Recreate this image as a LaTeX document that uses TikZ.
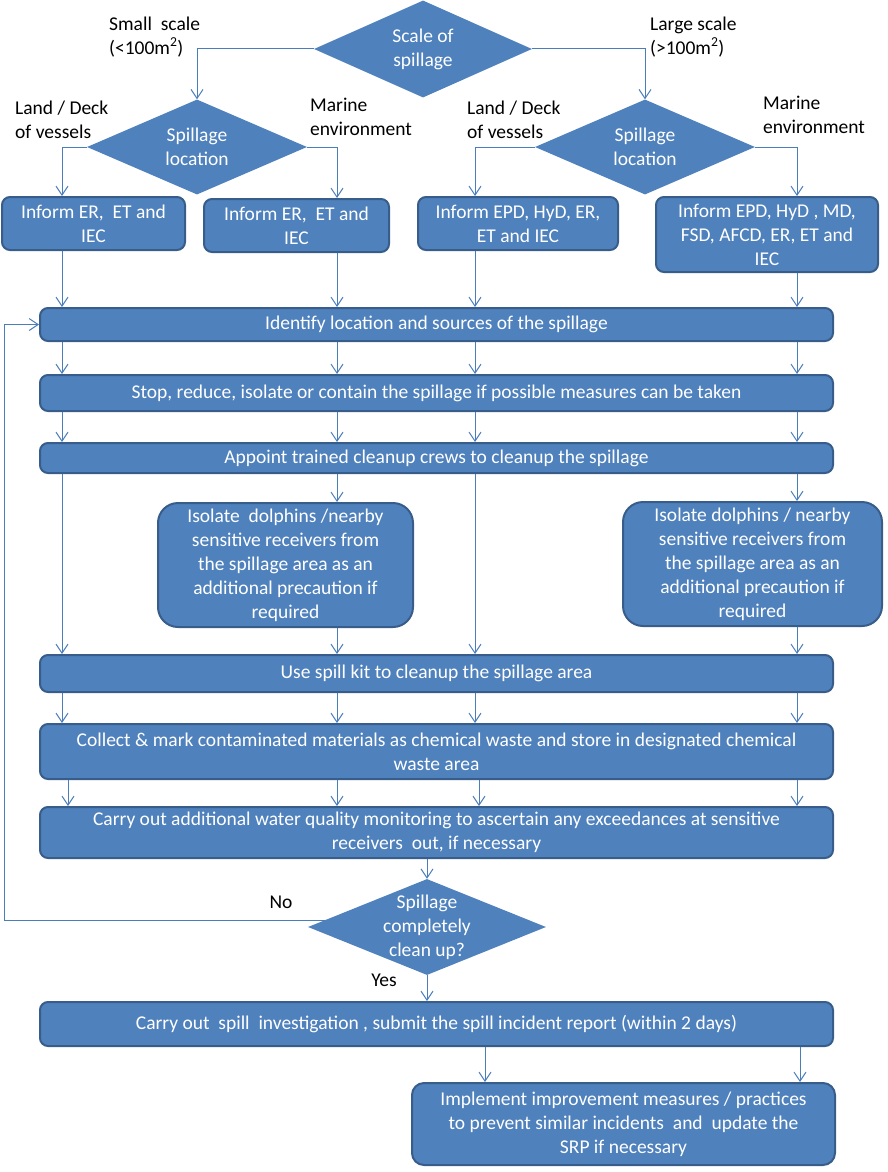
\documentclass[tikz,border=0pt]{standalone}
\usepackage{fontspec}
\setmainfont{Carlito}
\usetikzlibrary{shapes.geometric,arrows.meta}
\definecolor{boxblue}{HTML}{4F81BD}
\definecolor{edgeblue}{HTML}{385D8A}
\definecolor{lineblue}{HTML}{4A7EBB}
\tikzset{
    stepbox/.style={rectangle, rounded corners=8pt, draw=edgeblue, line width=2pt, fill=boxblue, text=white, align=center, inner sep=2pt},
    bigbox/.style={stepbox, rounded corners=20pt},
    decision/.style={diamond, fill=boxblue, text=white, align=center, inner sep=-6pt, aspect=2.3},
    branchtext/.style={align=left, text=black, inner sep=0pt, anchor=west},
    flow/.style={draw=lineblue, line width=1pt, -{Straight Barb[length=9pt,width=12pt]}}
}
\begin{document}
\begin{tikzpicture}[x=1pt, y=-1pt, font=\fontsize{19.5}{24}\selectfont]
    \useasboundingbox (0,0) rectangle (887,1172);
    \coordinate (c1) at (62,0);
    \coordinate (c2) at (337,0);
    \coordinate (c3) at (475,0);
    \coordinate (c4) at (797,0);
    \coordinate (d1) at (68,0);
    \coordinate (d3) at (479,0);
    \coordinate (e1) at (485,0);
    \coordinate (e2) at (800,0);
    \coordinate (loop) at (4,0);
    \node[decision, minimum width=218, minimum height=97] (scale) at (423,49) {Scale of\\spillage};
    \node[decision, minimum width=220, minimum height=95] (locS) at (197,147) {Spillage\\location};
    \node[decision, minimum width=220, minimum height=95] (locL) at (645,147) {Spillage\\location};
    \node[branchtext] (small) at (109,37) {Small~ scale\\(<100m\textsuperscript{2})};
    \node[branchtext] (large) at (650,37) {Large scale\\(>100m\textsuperscript{2})};
    \node[branchtext] (landS) at (15,119.5) {Land / Deck\\of vessels};
    \node[branchtext] (marS) at (310,117) {Marine\\environment};
    \node[branchtext] (landL) at (467,119.5) {Land / Deck\\of vessels};
    \node[branchtext] (marL) at (763,115) {Marine\\environment};
    \node[stepbox, minimum width=183, minimum height=53] (inf1) at (93.5,223.5) {Inform ER,~ ET and\\IEC};
    \node[stepbox, minimum width=185, minimum height=53] (inf2) at (296.5,225.5) {Inform ER,~ ET and\\IEC};
    \node[stepbox, minimum width=200, minimum height=53] (inf3) at (518,223.5) {Inform EPD, HyD, ER,\\ET and IEC};
    \node[stepbox, minimum width=222, minimum height=75] (inf4) at (767,234.5) {Inform EPD, HyD , MD,\\FSD, AFCD, ER, ET and\\IEC};
    \node[stepbox, minimum width=793, minimum height=33] (ident) at (436.5,324.5) {Identify location and sources of the spillage};
    \node[stepbox, minimum width=793, minimum height=36] (stop) at (436.5,393) {Stop, reduce, isolate or contain the spillage if possible measures can be taken};
    \node[stepbox, minimum width=793, minimum height=30] (appoint) at (436.5,458) {Appoint trained cleanup crews to cleanup the spillage};
    \node[bigbox, minimum width=255, minimum height=124] (iso1) at (285.5,565) {Isolate~ dolphins /nearby\\sensitive receivers from\\the spillage area as an\\additional precaution if\\required};
    \node[bigbox, minimum width=259, minimum height=124] (iso2) at (752.5,564) {Isolate dolphins / nearby\\sensitive receivers from\\the spillage area as an\\additional precaution if\\required};
    \node[stepbox, minimum width=793, minimum height=37] (kit) at (436.5,673.5) {Use spill kit to cleanup the spillage area};
    \node[stepbox, minimum width=793, minimum height=55] (collect) at (436.5,751.5) {Collect \& mark contaminated materials as chemical waste and store in designated chemical\\waste area};
    \node[stepbox, minimum width=793, minimum height=51] (monitor) at (436.5,832.5) {Carry out additional water quality monitoring to ascertain any exceedances at sensitive\\receivers~ out, if necessary};
    \node[decision, minimum width=238, minimum height=96] (clean) at (427,927) {Spillage\\completely\\clean up?};
    \node[stepbox, minimum width=793, minimum height=44] (report) at (436.5,1024) {Carry out~ spill~ investigation , submit the spill incident report (within 2 days)};
    \node[bigbox, rounded corners=12pt, minimum width=423, minimum height=82] (improve) at (623.5,1124) {Implement improvement measures / practices\\to prevent similar incidents~ and~ update the\\SRP if necessary};
    \node[text=black, inner sep=0pt] (no) at (281,902) {No};
    \node[text=black, inner sep=0pt] (yes) at (384,980) {Yes};
    \coordinate (noend) at ([xshift=17pt,yshift=7pt]clean.west);
    \draw[flow] (scale.west) -| (locS.north);
    \draw[flow] (scale.east) -| (locL.north);
    \draw[flow] (locS.west) -| (c1 |- inf1.north);
    \draw[flow] (locS.east) -| (c2 |- inf2.north);
    \draw[flow] (locL.west) -| (c3 |- inf3.north);
    \draw[flow] (locL.east) -| (c4 |- inf4.north);
    \draw[flow] (c1 |- inf1.south) to (c1 |- ident.north);
    \draw[flow] (c2 |- inf2.south) to (c2 |- ident.north);
    \draw[flow] (c3 |- inf3.south) to (c3 |- ident.north);
    \draw[flow] (c4 |- inf4.south) to (c4 |- ident.north);
    \foreach \c in {c1,c2,c3,c4}
        {\draw[flow] (\c |- ident.south) to (\c |- stop.north);
        \draw[flow] (\c |- stop.south) to (\c |- appoint.north);
        \draw[flow] (\c |- kit.south) to (\c |- collect.north);}
    \draw[flow] (c1 |- appoint.south) to (c1 |- kit.north);
    \draw[flow] (c2 |- appoint.south) to (c2 |- iso1.north);
    \draw[flow] (c3 |- appoint.south) to (c3 |- kit.north);
    \draw[flow] (c4 |- appoint.south) to (c4 |- iso2.north);
    \draw[flow] (c2 |- iso1.south) to (c2 |- kit.north);
    \draw[flow] (c4 |- iso2.south) to (c4 |- kit.north);
    \foreach \c in {d1,c2,d3,c4}
        \draw[flow] (\c |- collect.south) to (\c |- monitor.north);
    \draw[flow] (clean.north |- monitor.south) to (clean.north);
    \draw[flow] (noend) to (loop |- noend) |- (ident.west);
    \draw[flow] (clean.south) to (clean.south |- report.north);
    \draw[flow] (e1 |- report.south) to (e1 |- improve.north);
    \draw[flow] (e2 |- report.south) to (e2 |- improve.north);
\end{tikzpicture}
\end{document}
